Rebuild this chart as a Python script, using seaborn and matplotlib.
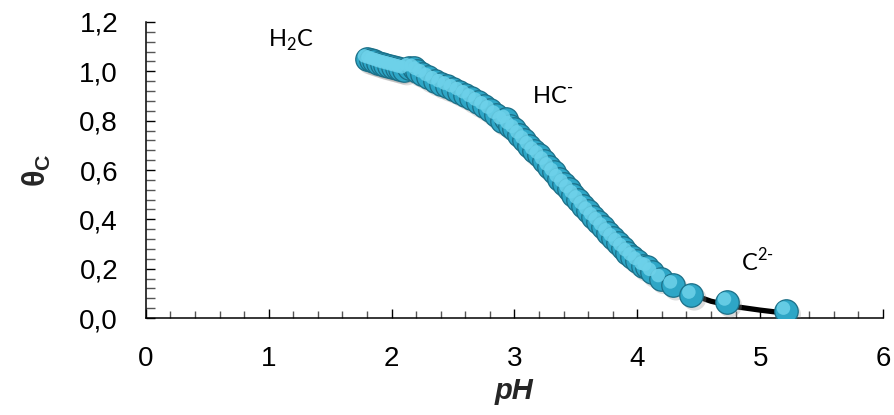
import matplotlib
matplotlib.use("Agg")
import matplotlib.pyplot as plt
import matplotlib.transforms as mtransforms
from matplotlib.ticker import MultipleLocator, FuncFormatter
import seaborn as sns
import pandas as pd

# ---- data ----
ph_points = [1.80, 1.83, 1.86, 1.89, 1.92, 1.95, 1.98, 2.01, 2.04, 2.07, 2.10,
             2.14, 2.18, 2.21, 2.25, 2.30, 2.35, 2.40, 2.45, 2.50, 2.55, 2.60,
             2.65, 2.70, 2.75, 2.80, 2.85, 2.90, 2.93, 2.96, 3.00, 3.04, 3.08,
             3.12, 3.16, 3.20, 3.24, 3.28, 3.32, 3.36, 3.40, 3.44, 3.48, 3.52,
             3.56, 3.60, 3.64, 3.68, 3.72, 3.76, 3.80, 3.84, 3.88, 3.92, 3.96,
             4.00, 4.05, 4.08, 4.12, 4.19, 4.29, 4.44, 4.73, 5.21]
theta_points = [1.050, 1.045, 1.040, 1.035, 1.030, 1.026, 1.022, 1.018, 1.014, 1.010, 1.006,
                1.015, 1.012, 1.000, 0.990, 0.975, 0.962, 0.950, 0.940, 0.930, 0.918, 0.905,
                0.890, 0.875, 0.860, 0.843, 0.822, 0.800, 0.805, 0.780, 0.765, 0.742, 0.720,
                0.698, 0.676, 0.660, 0.636, 0.612, 0.590, 0.565, 0.545, 0.522, 0.500, 0.478,
                0.455, 0.432, 0.410, 0.390, 0.368, 0.345, 0.325, 0.305, 0.285, 0.265, 0.247,
                0.230, 0.210, 0.205, 0.185, 0.160, 0.134, 0.093, 0.065, 0.028]

ph_curve = [1.8, 2.0, 2.2, 2.4, 2.6, 2.8, 3.0, 3.2, 3.4, 3.6, 3.8, 4.0, 4.2,
            4.4, 4.6, 4.8, 5.0, 5.2]
theta_curve = [1.05, 1.02, 0.995, 0.95, 0.905, 0.843, 0.765, 0.66, 0.545, 0.432,
               0.325, 0.23, 0.157, 0.103, 0.068, 0.046, 0.032, 0.020]

species_labels = ["H$_2$C", "HC$^{\\text{-}}$", "C$^{2\\text{-}}$"]
species_x = [1.18, 3.31, 4.98]
species_y = [1.127, 0.896, 0.231]

df_pts = pd.DataFrame({"pH": ph_points, "theta": theta_points})
df_curve = pd.DataFrame({"pH": ph_curve, "theta": theta_curve})

# ---- style ----
sns.set_theme(style="ticks")
plt.rcParams["font.family"] = ["Liberation Sans", "DejaVu Sans"]
plt.rcParams["mathtext.fontset"] = "custom"
plt.rcParams["mathtext.rm"] = "Lato"
plt.rcParams["mathtext.bf"] = "Liberation Sans:bold"

fig = plt.figure(figsize=(8.95, 4.15), dpi=100)
ax = fig.add_axes([0.163, 0.2337, 0.8236, 0.7133])

sns.lineplot(data=df_curve, x="pH", y="theta", ax=ax, color="black",
             linewidth=3.8, estimator=None, sort=True, zorder=2)

# shadow layer
shadow_tr = mtransforms.offset_copy(ax.transData, fig=fig, x=3, y=-3.5, units="dots")
ax.scatter(df_pts["pH"], df_pts["theta"], s=300, color="#8f8f8f", alpha=0.3,
           edgecolors="none", transform=shadow_tr, zorder=3)
# main spheres
sns.scatterplot(data=df_pts, x="pH", y="theta", ax=ax, s=285, color="#2ea6c6",
                edgecolor="#1b6f87", linewidth=0.9, zorder=4, legend=False)
# highlights
hl_tr = mtransforms.offset_copy(ax.transData, fig=fig, x=-2.5, y=3, units="dots")
ax.scatter(df_pts["pH"], df_pts["theta"], s=95, color="#6ed2ea", alpha=0.85,
           edgecolors="none", transform=hl_tr, zorder=5)

for lab, lx, ly in zip(species_labels, species_x, species_y):
    ax.text(lx, ly, lab, fontsize=17, family="Lato", ha="center", va="center",
            color="black")

ax.set_xlim(0, 6)
ax.set_ylim(0, 1.2)
ax.xaxis.set_major_locator(MultipleLocator(1))
ax.xaxis.set_minor_locator(MultipleLocator(0.2))
ax.yaxis.set_major_locator(MultipleLocator(0.2))
ax.yaxis.set_minor_locator(MultipleLocator(0.04))
ax.yaxis.set_major_formatter(FuncFormatter(lambda v, p: f"{v:.1f}".replace(".", ",")))

for s in ["top", "right"]:
    ax.spines[s].set_visible(False)
for s in ["left", "bottom"]:
    ax.spines[s].set_linewidth(1.1)
    ax.spines[s].set_color("black")

ax.tick_params(axis="both", which="both", direction="in", colors="black",
               labelsize=20, width=1.0)
ax.tick_params(axis="x", which="major", length=6.5, pad=20)
ax.tick_params(axis="x", which="minor", length=5, color="#555555")
ax.tick_params(axis="y", which="major", length=6.5, pad=20)
ax.tick_params(axis="y", which="minor", length=6.5, color="#555555")

ax.set_xlabel("pH", fontsize=21, fontweight="bold", fontstyle="italic", labelpad=4)
ax.set_ylabel("θ$_{\\mathbf{C}}$", fontsize=22, fontweight="bold", labelpad=19)

fig.savefig("out.png", dpi=100)
